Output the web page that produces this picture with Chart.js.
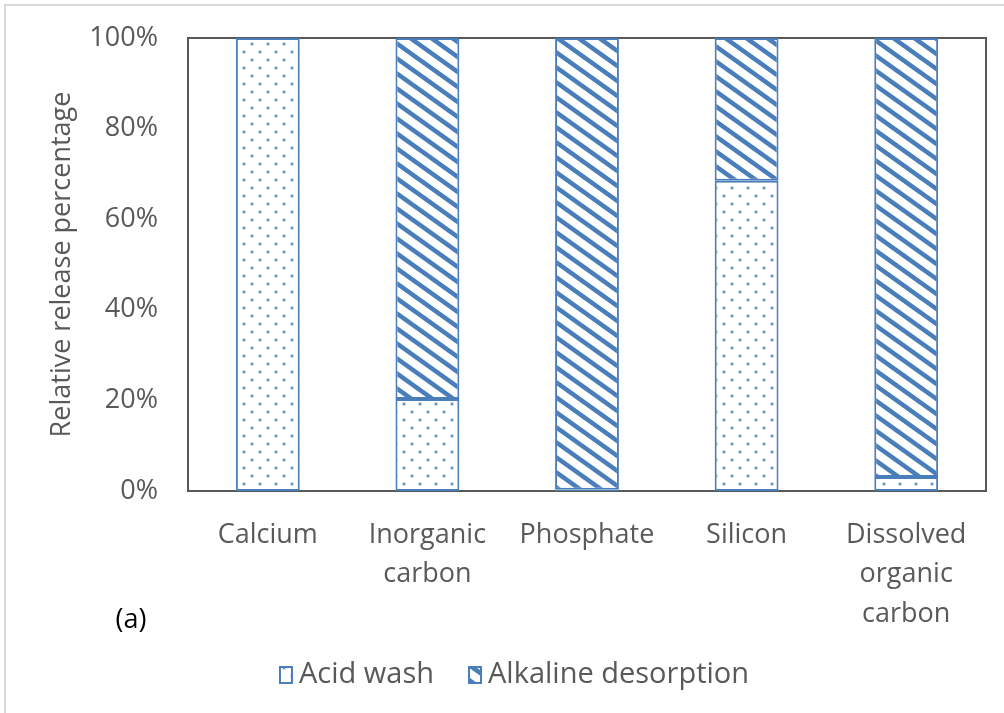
<!DOCTYPE html>
<html>
<head>
<meta charset="utf-8">
<script src="https://cdn.jsdelivr.net/npm/chart.js@4"></script>
<style>
  html, body { margin: 0; padding: 0; background: #fff; }
</style>
</head>
<body>
<canvas id="myChart" width="1004" height="713"></canvas>
<script>
var categories = ["Calcium", ["Inorganic", "carbon"], "Phosphate", "Silicon", ["Dissolved", "organic", "carbon"]];
var acidWash = [100, 20.3, 0.3, 68.5, 3.1];
var alkalineDesorption = [0, 79.7, 99.7, 31.5, 96.9];
var yTicks = [0, 20, 40, 60, 80, 100];

var blue = "#4a7ebb";
var textGrey = "#595959";
var fontFamily = "'Open Sans', sans-serif";

// dotted fill for acid wash
function dotPattern() {
  var c = document.createElement("canvas");
  c.width = 16; c.height = 16;
  var g = c.getContext("2d");
  g.fillStyle = "#fff";
  g.fillRect(0, 0, 16, 16);
  g.fillStyle = "rgba(74,126,187,0.2)";
  g.fillRect(2, 2, 4, 4);
  g.fillRect(10, 10, 4, 4);
  g.fillStyle = "rgba(74,126,187,0.9)";
  g.fillRect(3, 3, 2, 2);
  g.fillRect(11, 11, 2, 2);
  return g.createPattern(c, "repeat");
}

// downward diagonal stripes for alkaline desorption
function stripePattern() {
  var w = 21, h = 15;
  var c = document.createElement("canvas");
  c.width = w; c.height = h;
  var g = c.getContext("2d");
  g.fillStyle = "#fff";
  g.fillRect(0, 0, w, h);
  g.strokeStyle = blue;
  g.lineWidth = 4.5;
  [-h, 0, h].forEach(function (k) {
    g.beginPath();
    g.moveTo(-w, -h + k);
    g.lineTo(2 * w, 2 * h + k);
    g.stroke();
  });
  return g.createPattern(c, "repeat");
}

var ctx = document.getElementById("myChart").getContext("2d");

var boxPlugin = {
  id: "plotBox",
  beforeDraw: function (chart) {
    var c = chart.ctx;
    c.save();
    // light outer frame (top and left only)
    c.strokeStyle = "#d9d9d9";
    c.lineWidth = 2;
    c.beginPath();
    c.moveTo(5, chart.height);
    c.lineTo(5, 5);
    c.lineTo(chart.width, 5);
    c.stroke();
    c.restore();
  },
  beforeDatasetsDraw: function (chart) {
    var a = chart.chartArea, c = chart.ctx;
    c.save();
    c.strokeStyle = "#595959";
    c.lineWidth = 2;
    c.strokeRect(a.left, a.top, a.right - a.left, a.bottom - a.top);
    c.restore();
  },
  afterDraw: function (chart) {
    var c = chart.ctx;
    c.save();
    c.fillStyle = "#000";
    c.font = "27px " + fontFamily;
    c.textAlign = "center";
    c.textBaseline = "middle";
    c.fillText("(a)", 131, 620);

    // legend
    c.font = "29px " + fontFamily;
    var ds = chart.data.datasets;
    var boxW = 14, boxH = 18, gap = 6, itemGap = 34, cy = 675;
    var total = 0;
    ds.forEach(function (d, i) {
      total += boxW + gap + c.measureText(d.label).width + (i < ds.length - 1 ? itemGap : 0);
    });
    var x = 514 - total / 2;
    ds.forEach(function (d) {
      c.fillStyle = d.backgroundColor;
      c.fillRect(x, cy - boxH / 2, boxW, boxH);
      c.strokeStyle = d.borderColor;
      c.lineWidth = 2;
      c.strokeRect(x + 1, cy - boxH / 2 + 1, boxW - 2, boxH - 2);
      x += boxW + gap;
      c.fillStyle = textGrey;
      c.textAlign = "left";
      c.fillText(d.label, x, cy);
      x += c.measureText(d.label).width + itemGap;
    });
    c.restore();
  }
};

var chart = new Chart(ctx, {
  type: "bar",
  data: {
    labels: categories,
    datasets: [
      {
        label: "Acid wash",
        data: acidWash,
        backgroundColor: dotPattern(),
        borderColor: blue,
        borderWidth: 2,
        borderSkipped: false
      },
      {
        label: "Alkaline desorption",
        data: alkalineDesorption,
        backgroundColor: stripePattern(),
        borderColor: blue,
        borderWidth: 2,
        borderSkipped: false
      }
    ]
  },
  options: {
    responsive: false,
    animation: false,
    layout: { padding: { top: 38, right: 18, left: 40, bottom: 63 } },
    barPercentage: 0.8,
    categoryPercentage: 0.5,
    plugins: {
      tooltip: { enabled: false },
      legend: { display: false }
    },
    scales: {
      x: {
        stacked: true,
        grid: { display: false, drawTicks: false },
        border: { display: false },
        ticks: {
          color: textGrey,
          font: { family: fontFamily, size: 27, lineHeight: 1.45 },
          padding: 25,
          maxRotation: 0
        },
        afterFit: function (s) { s.height = 159; }
      },
      y: {
        stacked: true,
        min: 0,
        max: 100,
        afterBuildTicks: function (s) {
          s.ticks = yTicks.map(function (v) { return { value: v }; });
        },
        grid: { display: false, drawTicks: false },
        border: { display: false },
        ticks: {
          color: textGrey,
          font: { family: fontFamily, size: 27 },
          padding: 30,
          callback: function (v) { return v + "%"; }
        },
        title: {
          display: true,
          text: "Relative release percentage",
          color: textGrey,
          font: { family: fontFamily, size: 27 },
          padding: { top: 6 }
        },
        afterFit: function (s) {
          s.width = 148;
          s.paddingTop = 0;
          s.paddingBottom = 0;
        }
      }
    }
  },
  plugins: [boxPlugin]
});
</script>
</body>
</html>
